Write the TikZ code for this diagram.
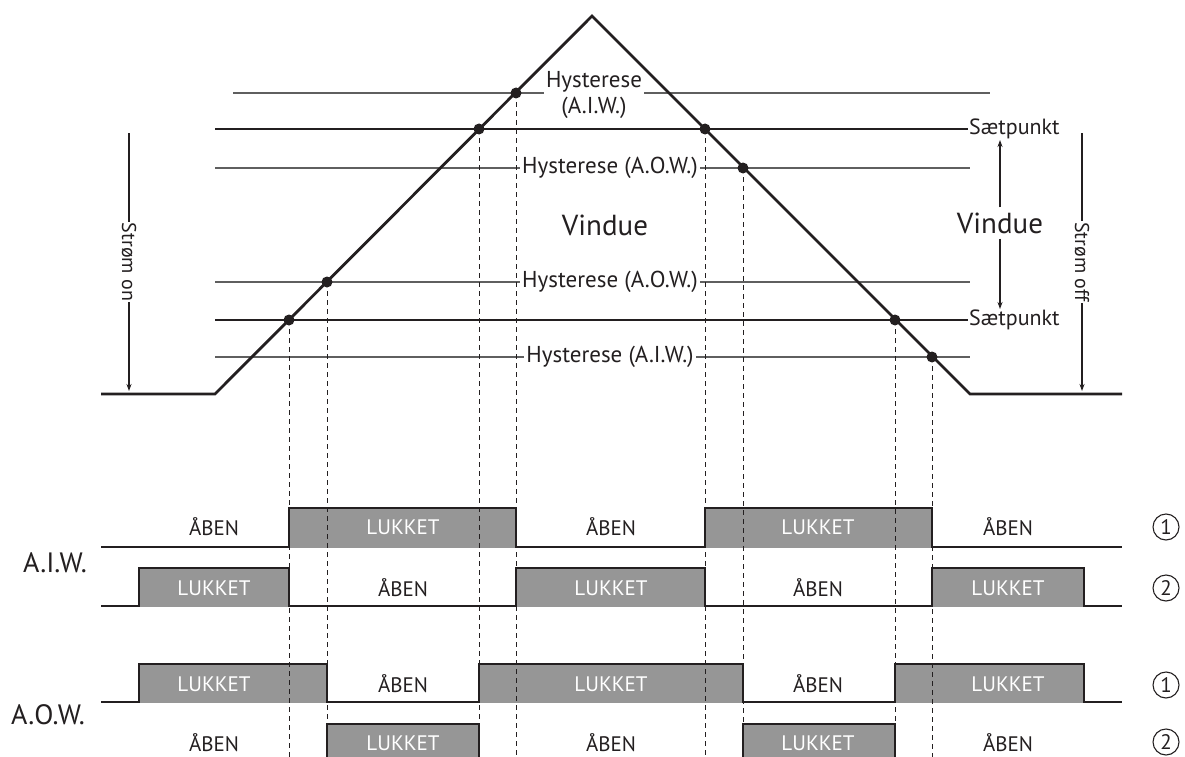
\documentclass[tikz,border=0pt]{standalone}
\usepackage{fontspec}
\setmainfont{PT Sans}
\usetikzlibrary{arrows.meta}
\definecolor{ink}{RGB}{35,31,32}
\definecolor{hystgray}{RGB}{95,95,95}
\definecolor{pulsegray}{RGB}{150,150,150}

\begin{document}
\begin{tikzpicture}[x=1pt, y=-1pt, >={Stealth[length=7pt,width=5pt]},
 every node/.style={font=\fontsize{22}{26}\selectfont, text=ink, inner sep=1pt},
 setline/.style={line width=2.8pt, draw=ink},
 hystline/.style={line width=1.3pt, draw=hystgray},
 ramp/.style={line width=2.8pt, draw=ink, line join=miter},
 trace/.style={line width=2.8pt, draw=ink, line join=miter},
 dot/.style={circle, fill=ink, inner sep=0pt, minimum size=11pt},
 drop/.style={draw=ink, line width=1pt, dash pattern=on 5pt off 4pt},
 cut/.style={fill=white, inner sep=2pt, font=\fontsize{23}{26}\selectfont},
 open/.style={text=ink, font=\fontsize{21}{24}\selectfont},
 closed/.style={text=white, font=\fontsize{21}{24}\selectfont},
 circnum/.style={circle, draw=ink, line width=1.1pt, minimum size=26pt, inner sep=0pt,
   font=\fontsize{21}{21}\selectfont}]
\useasboundingbox (0,0) rectangle (1185,757);

% ramp corners
\coordinate (base L) at (101,394);
\coordinate (foot L) at (215,394);
\coordinate (apex) at (592,16);
\coordinate (foot R) at (970,394);
\coordinate (base R) at (1122,394);

% hysteresis and setpoint levels
\draw[hystline] (233,93) -- (990,93);
\draw[hystline] (215,168) -- (970,168);
\draw[hystline] (215,282) -- (970,282);
\draw[hystline] (215,357) -- (970,357);
\node[anchor=west] (sp top) at (968,129) {Sætpunkt};
\node[anchor=west] (sp bot) at (968,320) {Sætpunkt};
\draw[setline] (215,129) -- (sp top.west);
\draw[setline] (215,320) -- (sp bot.west);

\node[cut, align=center] (hyst aiw up) at (594,95) {Hysterese\\(A.I.W.)};
\node[cut] (hyst aow up) at (610,168) {Hysterese (A.O.W.)};
\node[cut] (hyst aow low) at (610,282) {Hysterese (A.O.W.)};
\node[cut] (hyst aiw low) at (610,357) {Hysterese (A.I.W.)};

\node[font=\fontsize{29}{32}\selectfont] (win mid) at (605,225) {Vindue};
\node[font=\fontsize{29}{32}\selectfont] (win side) at (1000,223) {Vindue};
\coordinate (win up) at (1000,140);
\coordinate (win down) at (1000,309);
\draw[->, line width=1.1pt, draw=ink] (win side.north) ++(0,-4) -- (win up);
\draw[->, line width=1.1pt, draw=ink] (win side.south) ++(0,4) -- (win down);

% current on / off
\coordinate (on top) at (129,133);
\coordinate (on bot) at (129,391);
\coordinate (off top) at (1082,133);
\coordinate (off bot) at (1082,391);
\node[rotate=-90, font=\fontsize{20}{24}\selectfont] (strom on) at (129,262) {Strøm on};
\node[rotate=-90, font=\fontsize{20}{24}\selectfont] (strom off) at (1082,262) {Strøm off};
\draw[line width=1.1pt, draw=ink] (on top) -- (strom on.west);
\draw[->, line width=1.1pt, draw=ink] (strom on.east) -- (on bot);
\draw[line width=1.1pt, draw=ink] (off top) -- (strom off.west);
\draw[->, line width=1.1pt, draw=ink] (strom off.east) -- (off bot);

\draw[ramp] (base L) -- (foot L) -- (apex) -- (foot R) -- (base R);

% switching points
\coordinate (p1) at (289,320);
\coordinate (p2) at (327,282);
\coordinate (p3) at (479,129);
\coordinate (p4) at (516,93);
\coordinate (p5) at (705,129);
\coordinate (p6) at (743,168);
\coordinate (p7) at (895,320);
\coordinate (p8) at (932,357);
\foreach \p in {p1,p2,p3,p4,p5,p6,p7,p8}
  \node[dot] at (\p) {};

% pulse fills
\foreach \a/\b in {289/516,705/932}
  \fill[pulsegray] (\a,508) rectangle (\b,548);
\foreach \a/\b in {139/289,516/705,932/1084}
  \fill[pulsegray] (\a,568) rectangle (\b,607);
\foreach \a/\b in {139/327,479/743,895/1084}
  \fill[pulsegray] (\a,664) rectangle (\b,703);
\foreach \a/\b in {327/479,743/895}
  \fill[pulsegray] (\a,724) rectangle (\b,760);

% drop lines
\foreach \p in {p1,p2,p3,p4,p5,p6,p7,p8}
  \draw[drop] (\p) -- (\p |- 0,757);

% traces
\draw[trace] (101,547) -- (289,547) -- (289,508) -- (516,508) -- (516,547)
  -- (705,547) -- (705,508) -- (932,508) -- (932,547) -- (1122,547);
\draw[trace] (101,606) -- (139,606) -- (139,568) -- (289,568) -- (289,606)
  -- (516,606) -- (516,568) -- (705,568) -- (705,606) -- (932,606)
  -- (932,568) -- (1084,568) -- (1084,606) -- (1122,606);
\draw[trace] (101,702) -- (139,702) -- (139,664) -- (327,664) -- (327,702)
  -- (479,702) -- (479,664) -- (743,664) -- (743,702) -- (895,702)
  -- (895,664) -- (1084,664) -- (1084,702) -- (1122,702);
\draw[trace] (327,762) -- (327,724) -- (479,724) -- (479,762);
\draw[trace] (743,762) -- (743,724) -- (895,724) -- (895,762);

% state labels
\foreach \x/\s/\t [count=\i] in {214/open/ÅBEN,403/closed/LUKKET,611/open/ÅBEN,818/closed/LUKKET,1008/open/ÅBEN}
  \node[\s] (aiw one \i) at (\x,527) {\t};
\foreach \x/\s/\t [count=\i] in {214/closed/LUKKET,403/open/ÅBEN,611/closed/LUKKET,818/open/ÅBEN,1008/closed/LUKKET}
  \node[\s] (aiw two \i) at (\x,588) {\t};
\foreach \x/\s/\t [count=\i] in {214/closed/LUKKET,403/open/ÅBEN,611/closed/LUKKET,818/open/ÅBEN,1008/closed/LUKKET}
  \node[\s] (aow one \i) at (\x,684) {\t};
\foreach \x/\s/\t [count=\i] in {214/open/ÅBEN,403/closed/LUKKET,611/open/ÅBEN,818/closed/LUKKET,1008/open/ÅBEN}
  \node[\s] (aow two \i) at (\x,743) {\t};

% row names and numbers
\node[font=\fontsize{28}{30}\selectfont] (aiw name) at (55,563) {A.I.W.};
\node[font=\fontsize{28}{30}\selectfont] (aow name) at (48,715) {A.O.W.};
\node[circnum] (n1) at (1166,527) {1};
\node[circnum] (n2) at (1166,588) {2};
\node[circnum] (n3) at (1166,685) {1};
\node[circnum] (n4) at (1166,742) {2};
\end{tikzpicture}
\end{document}
